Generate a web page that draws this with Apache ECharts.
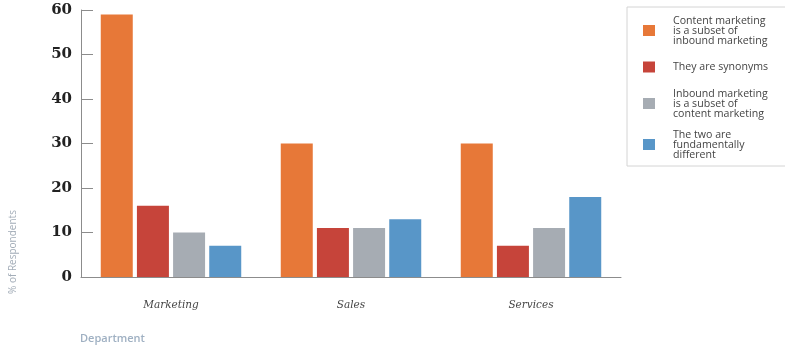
<!DOCTYPE html>
<html>
<head>
<meta charset="utf-8">
<script src="https://cdn.jsdelivr.net/npm/echarts@6/dist/echarts.min.js"></script>
<style>
html,body{margin:0;padding:0;background:#fff;}
#chart{width:785px;height:345px;}
</style>
</head>
<body>
<div id="chart"></div>
<script>
var categories = ['Marketing', 'Sales', 'Services'];
var seriesNames = [
  'Content marketing\nis a subset of\ninbound marketing',
  'They are synonyms',
  'Inbound marketing\nis a subset of\ncontent marketing',
  'The two are\nfundamentally\ndifferent'
];
var subsetContent = [59, 30, 30];
var synonyms = [16, 11, 7];
var subsetInbound = [10, 11, 11];
var different = [7, 13, 18];
var yTicks = [0, 10, 20, 30, 40, 50, 60];
var colors = ['#E77838', '#C6443A', '#A6ACB3', '#5896C8'];

var values = [subsetContent, synonyms, subsetInbound, different];

var chart = echarts.init(document.getElementById('chart'), null, {renderer: 'canvas'});
chart.setOption({
  animation: false,
  backgroundColor: '#ffffff',
  grid: {left: 81, top: 10, bottom: 68, width: 540},
  legend: {
    orient: 'vertical',
    left: 627,
    top: 7,
    padding: [8, 60, 6, 16],
    itemGap: 10,
    itemWidth: 12,
    itemHeight: 11,
    borderColor: '#d4d4d4',
    borderWidth: 1,
    icon: 'rect',
    textStyle: {fontFamily: 'Open Sans', fontSize: 10.6, lineHeight: 10, color: '#444', padding: [0, 0, 0, 13]},
    data: seriesNames.map(function (n, i) {
      return i === 1 ? {name: n, textStyle: {lineHeight: 22}} : {name: n};
    })
  },
  xAxis: {
    type: 'category',
    data: categories,
    axisLine: {lineStyle: {color: '#8c8c8c', width: 1}},
    axisTick: {inside: true, length: 6, lineStyle: {color: '#8c8c8c'}},
    axisLabel: {margin: 23, fontFamily: 'DejaVu Serif', fontStyle: 'italic', fontSize: 10.5, color: '#444'}
  },
  yAxis: {
    type: 'value',
    min: 0, max: 60, interval: 10,
    splitLine: {show: false},
    axisLine: {show: true, lineStyle: {color: '#8c8c8c', width: 1}},
    axisTick: {show: true, inside: true, length: 12, lineStyle: {color: '#8c8c8c'}},
    axisLabel: {margin: 9, fontFamily: 'DejaVu Serif', fontWeight: 'bold', fontSize: 15, color: '#222',
      formatter: function (v) { return yTicks.indexOf(v) >= 0 ? String(v) : ''; }}
  },
  graphic: [
    {type: 'text', x: 13, y: 252, rotation: Math.PI / 2,
     style: {text: '% of Respondents', fontFamily: 'Open Sans', fontSize: 10, fill: '#a3adb8', textAlign: 'center', textVerticalAlign: 'middle'}},
    {type: 'text', x: 80, y: 339,
     style: {text: 'Department', fontFamily: 'Open Sans', fontSize: 11, fontWeight: 600, fill: '#9fb0c2', textAlign: 'left', textVerticalAlign: 'middle'}}
  ],
  series: seriesNames.map(function (n, i) {
    return {
      name: n,
      type: 'bar',
      data: values[i],
      barWidth: 32,
      barGap: '13%',
      itemStyle: {color: colors[i]}
    };
  })
});
</script>
</body>
</html>
